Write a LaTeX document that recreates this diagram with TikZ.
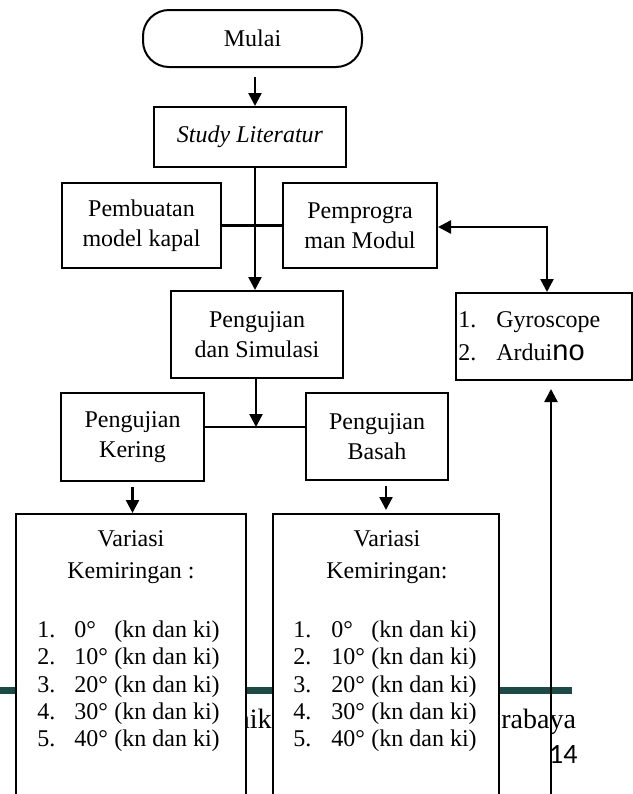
\documentclass[tikz,border=0pt]{standalone}
\usepackage{fontspec}
\setmainfont{Liberation Serif}
\newfontfamily\sansno{Liberation Sans}
\newfontfamily\calib{Carlito}
\usetikzlibrary{arrows.meta,calc}
\definecolor{teal1}{RGB}{30,74,70}
\begin{document}
\begin{tikzpicture}[x=0.5pt,y=-0.5pt,
  bx/.style={draw,line width=1pt,fill=white,inner sep=0pt,align=center,
    font=\fontsize{12}{15}\selectfont},
  txt/.style={inner sep=0pt,font=\fontsize{12}{15}\selectfont},
  ln/.style={line width=1.1pt},
  arr/.style={line width=1.2pt,-{Triangle[length=6.5pt,width=6.5pt]}},
  arrtwo/.style={line width=1.2pt,{Triangle[length=6.5pt,width=6.5pt]}-{Triangle[length=6.5pt,width=6.5pt]}}]
\useasboundingbox (0,0) rectangle (633,794);
\clip (0,0) rectangle (633,794);
\fill[white] (0,0) rectangle (633,794);
% footer remnants
\fill[teal1] (0,687) rectangle (572,694);
\node[anchor=base east,inner sep=0pt,font=\fontsize{14}{16}\selectfont] (ft1) at (272,728) {nik};
\node[anchor=base west,inner sep=0pt,font=\fontsize{14}{16}\selectfont] (ft2) at (501,728) {rabaya};
\node[anchor=base east,inner sep=0pt,font=\calib\fontsize{14}{16}\selectfont] (pg) at (578,763) {14};
% boxes
\node[bx,rounded corners=13pt,minimum width=109.5pt,minimum height=28.5pt] (mulai) at (252.5,38.5) {Mulai};
\node[bx,minimum width=96pt,minimum height=30pt] (study) at (250,137) {\itshape Study Literatur};
\node[bx,minimum width=79.5pt,minimum height=42.5pt] (pemb) at (141.5,225.5) {Pembuatan\\model kapal};
\node[bx,minimum width=77pt,minimum height=42.5pt] (pemp) at (360,225.5) {Pemprogra\\man Modul};
\node[bx,minimum width=86pt,minimum height=43.5pt] (sim) at (257,334.5) {Pengujian\\dan Simulasi};
\node[bx,minimum width=88pt,minimum height=43.5pt] (gyro) at (544,336.5) {};
\node[txt,anchor=base west] (g1) at (458,327) {\makebox[19pt][l]{1.}Gyroscope};
\node[txt,anchor=base west] (g2) at (458,360) {\makebox[19pt][l]{2.}Ardui{\sansno\fontsize{14.5}{15}\selectfont no}};
\node[bx,minimum width=71.5pt,minimum height=44pt] (kering) at (132.5,437) {Pengujian\\Kering};
\node[bx,minimum width=71pt,minimum height=43.5pt] (basah) at (377,436.5) {Pengujian\\Basah};
\node[bx,minimum width=115pt,minimum height=160pt] (var1) at (131,674) {};
\node[bx,minimum width=113pt,minimum height=160pt] (var2) at (386,674) {};
\node[txt,anchor=base] (v1a) at (131,546) {Variasi};
\node[txt,anchor=base] (v1b) at (131,578) {Kemiringan :};
\node[txt,anchor=base] (v2a) at (387,546) {Variasi};
\node[txt,anchor=base] (v2b) at (387,578) {Kemiringan:};
\foreach \n/\d/\yy in {1/0/637,2/10/664,3/20/692,4/30/719,5/40/746}{
  \node[txt,anchor=base west] (l1\n) at (37,\yy) {\makebox[18.5pt][l]{\n.}\makebox[20pt][l]{\d°}(kn dan ki)};
  \node[txt,anchor=base west] (l2\n) at (293,\yy) {\makebox[19pt][l]{\n.}\makebox[20pt][l]{\d°}(kn dan ki)};
}
% connectors
\coordinate (m0) at (255,77);
\draw[arr] (m0) -- (m0 |- study.north);
\draw[arr] (study.south -| m0) -- (sim.north -| m0);
\draw[ln] (pemb.east) -- (pemp.west);
\coordinate (gc) at (547,227);
\draw[arrtwo] (pemp.east |- gc) -- (gc) -- (gc |- gyro.north);
\coordinate (j) at (256,427);
\draw[arr] (sim.south -| j) -- (j);
\draw[ln] (kering.east |- j) -- (basah.west |- j);
\draw[arr] ($(kering.south)+(0,5)$) -- (var1.north -| kering.south);
\draw[arr] ($(basah.south -| var2.north)+(0,5)$) -- ($(var2.north)+(0,-3)$);
\coordinate (gb) at (551,794);
\draw[arr] (gb) -- ($(gb |- gyro.south)+(0,8)$);
\end{tikzpicture}
\end{document}
